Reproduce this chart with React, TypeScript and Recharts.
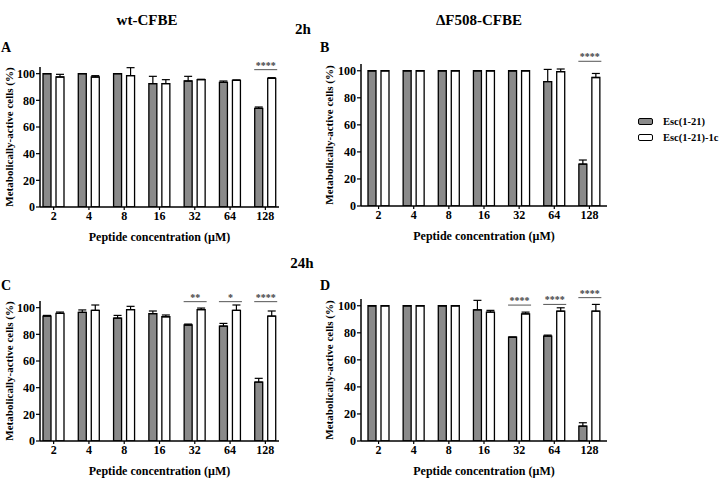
import React from 'react';
import { BarChart, Bar, XAxis, YAxis, ErrorBar, LabelList, Label, Legend } from 'recharts';

const categories = ['2', '4', '8', '16', '32', '64', '128'];
const yTicks = [0, 20, 40, 60, 80, 100];
const seriesNames = ['Esc(1-21)', 'Esc(1-21)-1c'];

// Panel A: wt-CFBE, 2h
const aEsc = [100, 100, 100, 92.5, 94.5, 93.5, 74];
const aEscErr = [0, 0, 0, 5.5, 3.5, 1, 1];
const a1c = [97.5, 97.5, 98.5, 92.5, 95.5, 95, 96.5];
const a1cErr = [2, 1, 6, 3, 0.3, 0.3, 0.5];
const aSig = ['', '', '', '', '', '', '****'];
const aSigLevel = [0, 0, 0, 0, 0, 0, 103];

// Panel B: ΔF508-CFBE, 2h
const bEsc = [100, 100, 100, 100, 100, 92, 31];
const bEscErr = [0, 0, 0, 0, 0, 9, 3];
const b1c = [100, 100, 100, 100, 100, 99.3, 95];
const b1cErr = [0, 0, 0, 0, 0, 2, 3];
const bSig = ['', '', '', '', '', '', '****'];
const bSigLevel = [0, 0, 0, 0, 0, 0, 107];

// Panel C: wt-CFBE, 24h
const cEsc = [93.7, 96.5, 92.2, 95.5, 87, 86.2, 44.2];
const cEscErr = [0.5, 1.8, 2, 2, 0.7, 2, 2.8];
const c1c = [95.7, 98, 98.5, 93.2, 98.5, 98, 93.7];
const c1cErr = [1, 4, 2.5, 1.3, 1.2, 4, 3.8];
const cSig = ['', '', '', '', '**', '*', '****'];
const cSigLevel = [0, 0, 0, 0, 104.5, 104.5, 104.5];

// Panel D: ΔF508-CFBE, 24h
const dEsc = [100, 100, 100, 97, 76.8, 77.6, 11];
const dEscErr = [0, 0, 0, 7, 0, 0.7, 2.5];
const d1c = [100, 100, 100, 95.3, 94, 96, 96];
const d1cErr = [0, 0, 0, 1.3, 1.3, 2.5, 5];
const dSig = ['', '', '', '', '****', '****', '****'];
const dSigLevel = [0, 0, 0, 0, 100.5, 101, 106];

type Row = { cat: string; esc: number; escErr: number[]; c1: number; c1Err: number[]; sig: string; sigLevel: number };

const build = (esc: number[], escErr: number[], c1: number[], c1Err: number[], sig: string[], lvl: number[]): Row[] =>
  categories.map((cat, i) => ({
    cat,
    esc: esc[i],
    escErr: [0, escErr[i]],
    c1: c1[i],
    c1Err: [0, c1Err[i]],
    sig: sig[i],
    sigLevel: lvl[i],
  }));

const dataA = build(aEsc, aEscErr, a1c, a1cErr, aSig, aSigLevel);
const dataB = build(bEsc, bEscErr, b1c, b1cErr, bSig, bSigLevel);
const dataC = build(cEsc, cEscErr, c1c, c1cErr, cSig, cSigLevel);
const dataD = build(dEsc, dEscErr, d1c, d1cErr, dSig, dSigLevel);

const FONT = '"Liberation Serif", "DejaVu Serif", serif';
const GRAY = '#8a8a8a';
const BAR = 8;
const GAP = 5;

const tickStyle = { fontFamily: FONT, fontSize: 12, fontWeight: 700, fill: '#000' };

const makeSigLabel = (data: Row[]) => (props: any) => {
  const { x, y, width, height, index } = props;
  const d = data[index];
  if (!d || !d.sig) return null;
  const base = Number(y) + Number(height);
  const k = Number(height) / d.c1;
  const ly = base - d.sigLevel * k;
  const x1 = Number(x) - GAP - BAR - 0.5;
  const x2 = Number(x) + Number(width) + 1.5;
  return (
    <g>
      <line x1={x1} x2={x2} y1={ly} y2={ly} stroke="#555" strokeWidth={1} />
      <text x={(x1 + x2) / 2} y={ly - 1} textAnchor="middle" fontFamily={FONT} fontSize={10} fontWeight={700} fill="#444">
        {d.sig}
      </text>
    </g>
  );
};

const YLabel = (props: any) => {
  const vb = props.viewBox || {};
  const cx = props.labelX - props.chartLeft;
  const cy = vb.y + vb.height / 2;
  return (
    <text
      x={cx}
      y={cy}
      transform={`rotate(-90 ${cx} ${cy})`}
      textAnchor="middle"
      dominantBaseline="central"
      fontFamily={FONT}
      fontSize={11}
      fontWeight={700}
      fill="#000"
    >
      Metabolically-active cells (%)
    </text>
  );
};

const LegendContent = (props: any) => {
  const payload = props.payload || [];
  return (
    <div style={{ fontFamily: FONT, fontSize: 10.5, fontWeight: 700, color: '#000' }}>
      {payload.map((p: any, i: number) => (
        <div key={i} style={{ display: 'flex', alignItems: 'center', height: 16, whiteSpace: 'nowrap' }}>
          <span
            style={{
              display: 'inline-block',
              width: 13,
              height: 5,
              border: '1.5px solid #000',
              borderRadius: 2,
              background: p.color,
              marginRight: 10,
            }}
          />
          {p.value}
        </div>
      ))}
    </div>
  );
};

type PanelProps = {
  data: Row[];
  left: number;
  top: number;
  width: number;
  height: number;
  mTop: number;
  mRight: number;
  padX: number;
  labelX: number;
  legend?: boolean;
};

const Panel = ({ data, left, top, width, height, mTop, mRight, padX, labelX, legend }: PanelProps) => (
  <div style={{ position: 'absolute', left, top, width, height }}>
    <BarChart
      width={width}
      height={height}
      data={data}
      margin={{ top: mTop, right: mRight, bottom: 0, left: 0 }}
      barSize={BAR}
      barGap={GAP}
      style={{ overflow: 'visible' }}
    >
      <XAxis
        dataKey="cat"
        height={38}
        tick={tickStyle}
        tickSize={3}
        tickMargin={1}
        axisLine={{ stroke: '#000', strokeWidth: 1.5 }}
        tickLine={{ stroke: '#000', strokeWidth: 1.2 }}
        padding={{ left: padX, right: padX }}
      >
        <Label
          value="Peptide concentration (µM)"
          position="insideBottom"
          offset={4}
          style={{ fontFamily: FONT, fontSize: 12, fontWeight: 700, fill: '#000' }}
        />
      </XAxis>
      <YAxis
        width={40}
        domain={[0, 105]}
        ticks={yTicks}
        allowDataOverflow
        tick={tickStyle}
        tickSize={4}
        tickMargin={1}
        axisLine={{ stroke: '#000', strokeWidth: 1.5 }}
        tickLine={{ stroke: '#000', strokeWidth: 1.2 }}
      >
        <Label content={(p: any) => <YLabel {...p} chartLeft={left} labelX={labelX} />} />
      </YAxis>
      {legend && (
        <Legend
          layout="vertical"
          align="center"
          verticalAlign="middle"
          content={LegendContent}
          wrapperStyle={{ left: 317, top: 113, width: 110 }}
        />
      )}
      <Bar dataKey="esc" name={seriesNames[0]} fill={GRAY} stroke="#000" strokeWidth={1.3} isAnimationActive={false}>
        <ErrorBar dataKey="escErr" width={4} stroke="#000" strokeWidth={1.2} direction="y" />
      </Bar>
      <Bar dataKey="c1" name={seriesNames[1]} fill="#fff" stroke="#000" strokeWidth={1.3} isAnimationActive={false}>
        <ErrorBar dataKey="c1Err" width={4} stroke="#000" strokeWidth={1.2} direction="y" />
        <LabelList dataKey="sig" content={makeSigLabel(data)} />
      </Bar>
    </BarChart>
  </div>
);

const titleStyle = { fontFamily: FONT, fontWeight: 700, fill: '#000' } as const;

export default function App() {
  return (
    <div style={{ position: 'absolute', left: 0, top: 0, width: 720, height: 478, background: '#fff', overflow: 'hidden' }}>
      <svg width={720} height={478} style={{ position: 'absolute', left: 0, top: 0 }}>
        <text x={147} y={25} textAnchor="middle" fontSize={15} {...titleStyle}>wt-CFBE</text>
        <text x={479} y={25} textAnchor="middle" fontSize={15} {...titleStyle}>ΔF508-CFBE</text>
        <text x={303} y={34} textAnchor="middle" fontSize={15} {...titleStyle}>2h</text>
        <text x={302} y={268} textAnchor="middle" fontSize={15} {...titleStyle}>24h</text>
        <text x={1} y={52} fontSize={14} {...titleStyle}>A</text>
        <text x={320} y={52} fontSize={14} {...titleStyle}>B</text>
        <text x={1} y={290} fontSize={14} {...titleStyle}>C</text>
        <text x={320} y={290} fontSize={14} {...titleStyle}>D</text>
      </svg>
      <Panel data={dataA} left={0} top={0} width={300} height={245} mTop={67} mRight={21} padX={-4} labelX={9} />
      <Panel data={dataB} left={321} top={0} width={399} height={244} mTop={64} mRight={113} padX={0} labelX={329} legend />
      <Panel data={dataC} left={0} top={234} width={300} height={245} mTop={67} mRight={21} padX={-4} labelX={9} />
      <Panel data={dataD} left={321} top={235} width={399} height={244} mTop={64} mRight={113} padX={0} labelX={329} />
    </div>
  );
}
